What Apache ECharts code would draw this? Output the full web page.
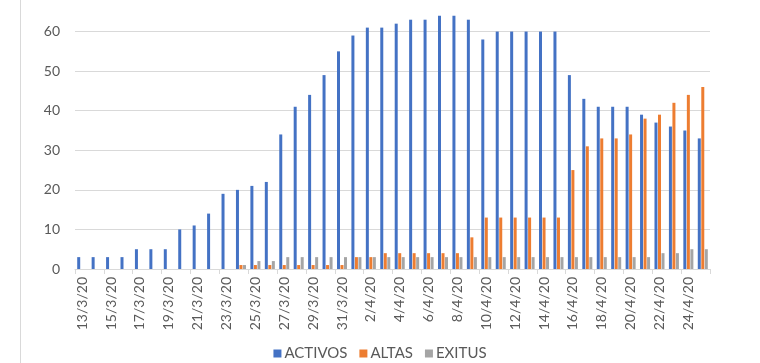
<!DOCTYPE html>
<html>
<head>
<meta charset="utf-8">
<script src="https://cdn.jsdelivr.net/npm/echarts@6/dist/echarts.min.js"></script>
<style>
  html, body { margin: 0; padding: 0; background: #fff; overflow: hidden; width: 760px; height: 363px; position: relative; }
  #chart { width: 760px; height: 371px; position: absolute; left: 0; top: -8px; }
</style>
</head>
<body>
<div id="chart"></div>
<script>
const categories = [
  '13/3/20','14/3/20','15/3/20','16/3/20','17/3/20','18/3/20','19/3/20','20/3/20','21/3/20','22/3/20',
  '23/3/20','24/3/20','25/3/20','26/3/20','27/3/20','28/3/20','29/3/20','30/3/20','31/3/20',
  '1/4/20','2/4/20','3/4/20','4/4/20','5/4/20','6/4/20','7/4/20','8/4/20','9/4/20','10/4/20',
  '11/4/20','12/4/20','13/4/20','14/4/20','15/4/20','16/4/20','17/4/20','18/4/20','19/4/20','20/4/20',
  '21/4/20','22/4/20','23/4/20','24/4/20','25/4/20'
];
const activos = [3,3,3,3,5,5,5,10,11,14,19,20,21,22,34,41,44,49,55,59,61,61,62,63,63,64,64,63,58,60,60,60,60,60,49,43,41,41,41,39,37,36,35,33];
const altas   = [0,0,0,0,0,0,0,0,0,0,0,1,1,1,1,1,1,1,1,3,3,4,4,4,4,4,4,8,13,13,13,13,13,13,25,31,33,33,34,38,39,42,44,46];
const exitus  = [0,0,0,0,0,0,0,0,0,0,0,1,2,2,3,3,3,3,3,3,3,3,3,3,3,3,3,3,3,3,3,3,3,3,3,3,3,3,3,3,4,4,5,5];
const yTicks = [0,10,20,30,40,50,60,70];

const chart = echarts.init(document.getElementById('chart'), null, {renderer: 'canvas'});
const font = 'Lato, "Noto Sans", sans-serif';
chart.setOption({
  animation: false,
  textStyle: { fontFamily: font },
  graphic: [{
    type: 'line', shape: { x1: 20.5, y1: 0, x2: 20.5, y2: 371 },
    style: { stroke: '#d9d9d9', lineWidth: 1 }
  }],
  grid: { left: 75, right: 50, top: 0, bottom: 94, containLabel: false, outerBoundsMode: 'none' },
  legend: {
    bottom: -3, left: 'center',
    itemWidth: 8, itemHeight: 8, itemGap: 12,
    icon: 'rect',
    textStyle: { color: '#595959', fontSize: 15, fontFamily: font, padding: [0, 0, 0, -2] },
    data: ['ACTIVOS', 'ALTAS', 'EXITUS']
  },
  xAxis: {
    type: 'category',
    data: categories,
    boundaryGap: true,
    axisLine: { lineStyle: { color: '#d9d9d9' } },
    axisTick: { show: true, interval: 1, length: 5, lineStyle: { color: '#d9d9d9' } },
    axisLabel: { interval: 1, rotate: 90, color: '#595959', fontSize: 14, fontFamily: font, margin: 8 }
  },
  yAxis: {
    type: 'value', min: yTicks[0], max: yTicks[yTicks.length - 1], interval: 10,
    axisLine: { show: false }, axisTick: { show: false },
    splitLine: { lineStyle: { color: '#d9d9d9' } },
    axisLabel: { color: '#595959', fontSize: 14, fontFamily: font, margin: 15 }
  },
  series: [
    { name: 'ACTIVOS', type: 'bar', data: activos, barWidth: 3, barGap: '17%', itemStyle: { color: '#4472C4' } },
    { name: 'ALTAS', type: 'bar', data: altas, barWidth: 3, barGap: '17%', itemStyle: { color: '#ED7D31' } },
    { name: 'EXITUS', type: 'bar', data: exitus, barWidth: 3, barGap: '17%', itemStyle: { color: '#A5A5A5' } }
  ]
});
</script>
</body>
</html>
